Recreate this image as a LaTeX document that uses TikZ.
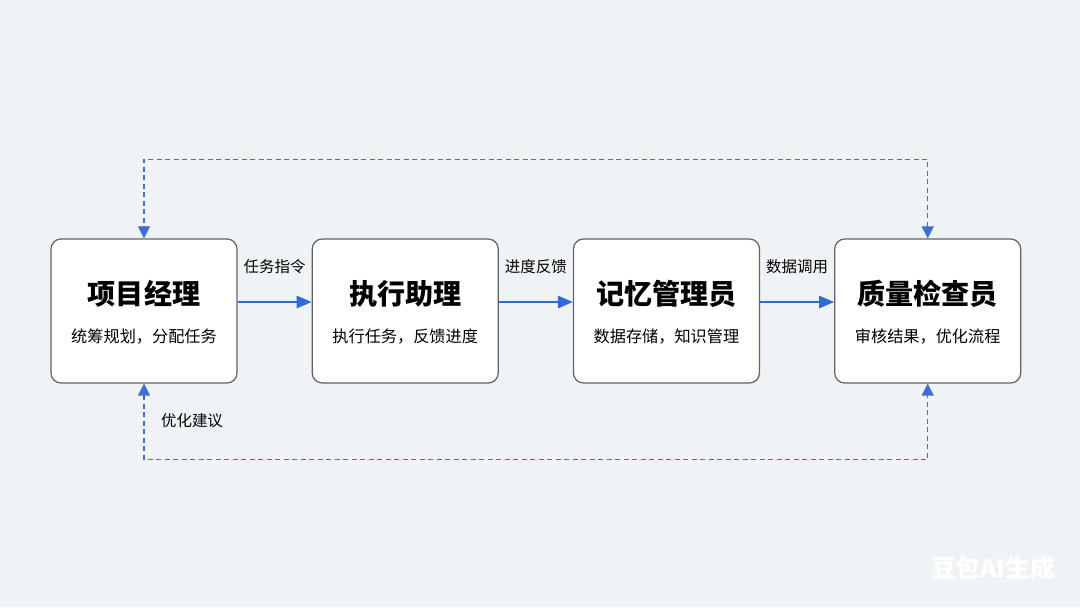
\documentclass[tikz,border=0pt]{standalone}
\usepackage{fontspec}
\setmainfont{Noto Sans CJK SC}
\usetikzlibrary{positioning,arrows.meta}
\definecolor{wfbg}{HTML}{F0F3F6}
\definecolor{wfblue}{HTML}{2F6BD8}
\definecolor{wfdash}{HTML}{3F6FD0}
\definecolor{wfedge}{HTML}{5F6368}
\begin{document}
\begin{tikzpicture}[
  wfbox/.style = {draw=wfedge, fill=white, line width=0.7pt, rounded corners=0.2cm,
    minimum width=3.72cm, minimum height=2.88cm},
  wftitle/.style = {font=\fontsize{16}{18}\selectfont\bfseries},
  wfsub/.style = {font=\fontsize{9.2}{11}\selectfont},
  wflbl/.style = {font=\fontsize{8.8}{10}\selectfont, text=black},
  wfflow/.style = {-{Triangle[length=0.3cm,width=0.25cm]}, wfblue, line width=0.7pt},
  wfloop/.style = {{Triangle[length=0.24cm,width=0.24cm]}-{Triangle[length=0.24cm,width=0.24cm]},
    wfdash, line width=0.8pt, dash pattern=on 0.1cm off 0.07cm}
]
  % background
  \fill[wfbg] (0,0) rectangle (21.6,12.14);
  \useasboundingbox (0,0) rectangle (21.6,12.14);
  % roles
  \node[wfbox] (pm) at (2.88,5.92) {};
  \node[wfbox, right=1.48cm of pm] (ea) {};
  \node[wfbox, right=1.48cm of ea] (mm) {};
  \node[wfbox, right=1.48cm of mm] (qc) {};
  \node[wftitle] (pmT) at ([yshift=0.34cm]pm.center) {项目经理};
  \node[wfsub] (pmS) at ([yshift=-0.52cm]pm.center) {统筹规划，分配任务};
  \node[wftitle] (eaT) at ([yshift=0.34cm]ea.center) {执行助理};
  \node[wfsub] (eaS) at ([yshift=-0.52cm]ea.center) {执行任务，反馈进度};
  \node[wftitle] (mmT) at ([yshift=0.34cm]mm.center) {记忆管理员};
  \node[wfsub] (mmS) at ([yshift=-0.52cm]mm.center) {数据存储，知识管理};
  \node[wftitle] (qcT) at ([yshift=0.34cm]qc.center) {质量检查员};
  \node[wfsub] (qcS) at ([yshift=-0.52cm]qc.center) {审核结果，优化流程};
  % flow
  \draw[wfflow] ([yshift=0.18cm]pm.east) -- node[wflbl, yshift=0.7cm] (lblA) {任务指令} ([yshift=0.18cm]ea.west);
  \draw[wfflow] ([yshift=0.18cm]ea.east) -- node[wflbl, yshift=0.7cm] (lblB) {进度反馈} ([yshift=0.18cm]mm.west);
  \draw[wfflow] ([yshift=0.18cm]mm.east) -- node[wflbl, yshift=0.7cm] (lblC) {数据调用} ([yshift=0.18cm]qc.west);
  % feedback loops
  \draw[wfloop] (qc.north) -- ++(0,1.58) -| (pm.north);
  \draw[wfloop] (pm.south) -- ++(0,-1.52) -| (qc.south);
  \node[wflbl] (lblD) at ([xshift=0.96cm,yshift=-0.74cm]pm.south) {优化建议};
  % mark
  \node[font=\fontsize{14}{16}\selectfont\bfseries, white] (mark) at (19.86,0.78) {豆包AI生成};
\end{tikzpicture}
\end{document}
